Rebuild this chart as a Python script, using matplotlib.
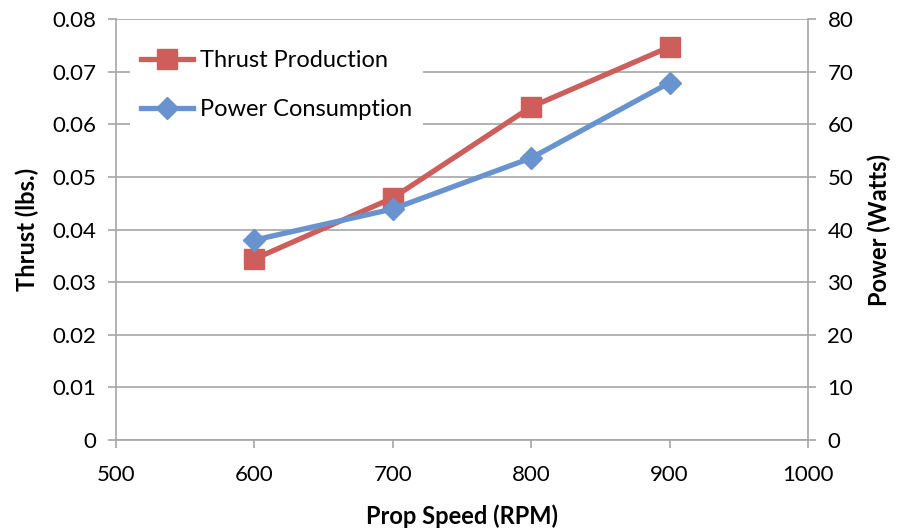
import matplotlib.pyplot as plt
from matplotlib.lines import Line2D

plt.rcParams['font.family'] = ['Lato', 'DejaVu Sans']

rpm = [600, 700, 800, 900]
thrust = [0.0344, 0.0460, 0.0633, 0.0747]
power = [38.0, 43.9, 53.6, 67.9]

red = '#CC5F5B'
blue = '#6893CF'
grey = '#A6A6A6'

fig = plt.figure(figsize=(8.98, 5.31), dpi=100)
ax = fig.add_axes([116/898, 1 - 440/531, (808-116)/898, (440-19)/531])
ax2 = ax.twinx()

ax.plot(rpm, thrust, color=red, lw=3.8, marker='s', ms=14, zorder=3)
ax2.plot(rpm, power, color=blue, lw=3.8, marker='D', ms=11, zorder=3)

ax.set_xlim(500, 1000)
ax.set_ylim(0, 0.08)
ax2.set_ylim(0, 80)
ax.set_xticks([500, 600, 700, 800, 900, 1000])
ax.set_yticks([i * 0.01 for i in range(9)])
ax.set_yticklabels(['0'] + ['%.2f' % (i * 0.01) for i in range(1, 9)])
ax2.set_yticks(range(0, 81, 10))

ax.grid(axis='y', color=grey, lw=1.2)
ax.set_axisbelow(True)
for a in (ax, ax2):
    for s in a.spines.values():
        s.set_visible(False)
    a.tick_params(labelsize=16, length=6, width=1.2, color=grey, pad=8)
ax.tick_params(axis='x', pad=12)
for a, side in ((ax, 'bottom'), (ax, 'left'), (ax2, 'right')):
    a.spines[side].set_visible(True)
    a.spines[side].set_color(grey)
    a.spines[side].set_linewidth(1.2)

ax.set_xlabel('Prop Speed (RPM)', fontsize=17, fontweight='bold', labelpad=14)
ax.set_ylabel('Thrust (lbs.)', fontsize=17, fontweight='bold', labelpad=10)
ax2.set_ylabel('Power (Watts)', fontsize=17, fontweight='bold', labelpad=10)

handles = [Line2D([], [], color=red, lw=3.8, marker='s', ms=14),
           Line2D([], [], color=blue, lw=3.8, marker='D', ms=11)]
leg = ax2.legend(handles, ['Thrust Production', 'Power Consumption'],
                 loc='upper left', bbox_to_anchor=(0.0, 0.985), fontsize=17,
                 frameon=True, edgecolor='none', facecolor='white', framealpha=1,
                 fancybox=False, handlelength=2.2, handletextpad=0.3,
                 labelspacing=1.2, borderpad=0.45, borderaxespad=0.6)

fig.savefig('out.png', dpi=100)
